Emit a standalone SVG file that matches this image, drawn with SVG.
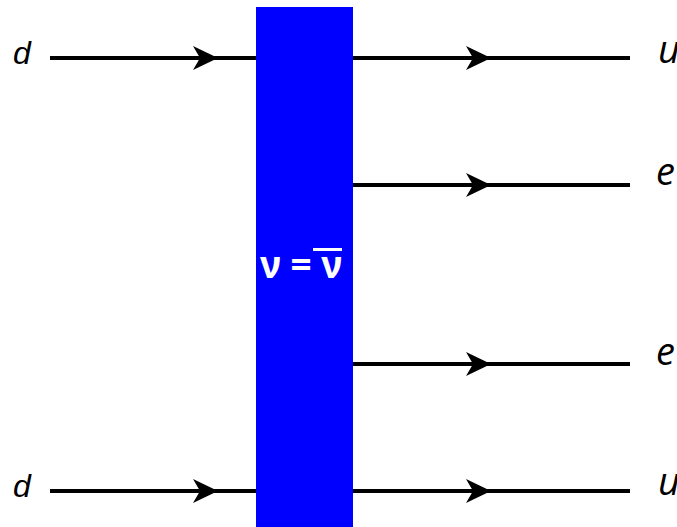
<svg xmlns="http://www.w3.org/2000/svg" width="677" height="527" viewBox="0 0 677 527">
<defs>
<marker id="arr" markerUnits="userSpaceOnUse" markerWidth="30" markerHeight="30" viewBox="-26 -14 30 28" refX="0" refY="0" orient="auto" overflow="visible">
<path d="M0 0 L-25 -12 L-18 0 L-25 12 Z" fill="#000"/>
</marker>
</defs>
<style>
.ln{stroke:#000;stroke-width:4;fill:none;marker-mid:url(#arr)}
.lbl{font-family:"Liberation Sans",Arial,sans-serif;font-style:italic;font-size:32px;fill:#000}
.lblr{font-family:"Open Sans","DejaVu Sans",sans-serif;font-style:italic;font-size:38px;fill:#000}
.nu{font-family:"Noto Sans","Open Sans",sans-serif;font-weight:bold;font-size:37px;fill:#fff}
</style>
<g id="vertex">
<rect x="256" y="7" width="97" height="525" fill="#0000ff"/>
<text class="nu" x="301" y="278" text-anchor="middle">ν = ν</text>
<line x1="313" y1="249.5" x2="342" y2="249.5" stroke="#fff" stroke-width="3"/>
</g>
<g id="connectors">
<path class="ln" d="M50 58 L218 58 L256 58"/>
<path class="ln" d="M50 491 L218 491 L256 491"/>
<path class="ln" d="M353 58 L491 58 L630 58"/>
<path class="ln" d="M353 185 L491 185 L630 185"/>
<path class="ln" d="M353 364 L491 364 L630 364"/>
<path class="ln" d="M353 491 L491 491 L630 491"/>
</g>
<g id="d-top"><text class="lbl" x="13" y="64">d</text></g>
<g id="d-bottom"><text class="lbl" x="13" y="497">d</text></g>
<g id="u-top"><text class="lblr" x="658" y="63">u</text></g>
<g id="e-top"><text class="lblr" x="656" y="185">e</text></g>
<g id="e-bottom"><text class="lblr" x="656" y="365">e</text></g>
<g id="u-bottom"><text class="lblr" x="658" y="495">u</text></g>
</svg>
